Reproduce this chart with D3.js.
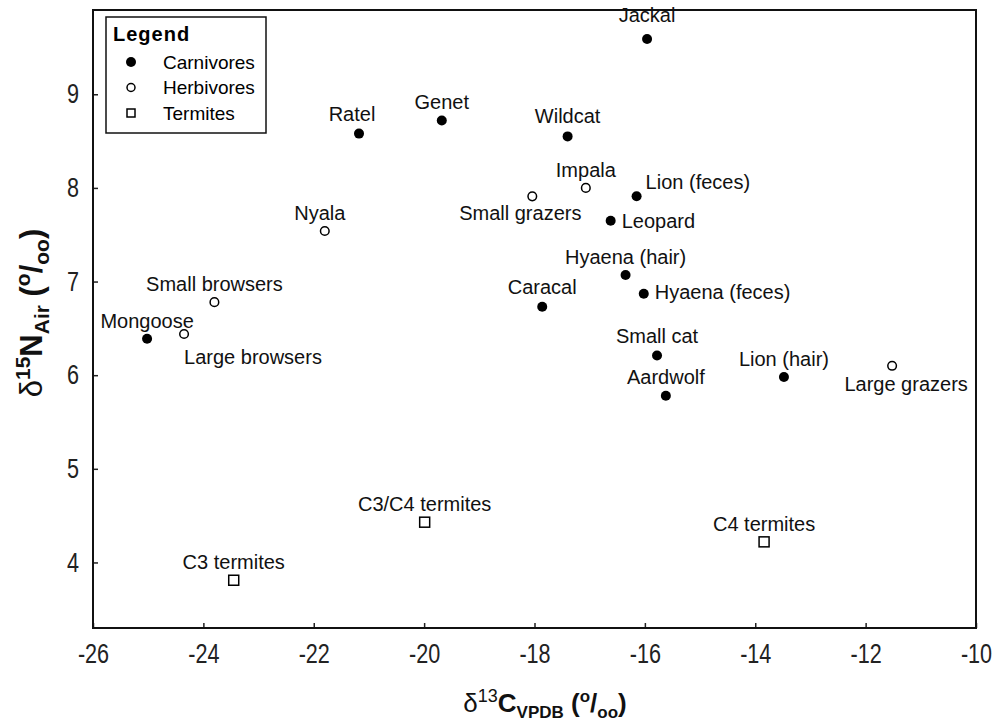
<!DOCTYPE html>
<html>
<head>
<meta charset="utf-8">
<script src="https://cdn.jsdelivr.net/npm/d3@7"></script>
<style>
  body { margin: 0; background: #fff; }
  svg { display: block; }
</style>
</head>
<body>
<script>
// Data
const names = ["Jackal", "Ratel", "Genet", "Wildcat", "Impala", "Small grazers", "Lion (feces)",
  "Leopard", "Nyala", "Hyaena (hair)", "Hyaena (feces)", "Caracal", "Small browsers", "Mongoose",
  "Large browsers", "Small cat", "Aardwolf", "Lion (hair)", "Large grazers",
  "C3 termites", "C3/C4 termites", "C4 termites"];
const d13C = [-15.96, -21.18, -19.68, -17.4, -17.07, -18.04, -16.15,
  -16.62, -21.8, -16.35, -16.02, -17.86, -23.8, -25.02,
  -24.35, -15.78, -15.62, -13.48, -11.52,
  -23.45, -19.99, -13.84];
const d15N = [9.59, 8.58, 8.72, 8.55, 8.0, 7.91, 7.91,
  7.65, 7.54, 7.07, 6.87, 6.73, 6.78, 6.39,
  6.44, 6.21, 5.78, 5.98, 6.1,
  3.81, 4.43, 4.22];
const groups = ["Carnivores", "Carnivores", "Carnivores", "Carnivores", "Herbivores", "Herbivores", "Carnivores",
  "Carnivores", "Herbivores", "Carnivores", "Carnivores", "Carnivores", "Herbivores", "Carnivores",
  "Herbivores", "Carnivores", "Carnivores", "Carnivores", "Herbivores",
  "Termites", "Termites", "Termites"];
const legendItems = ["Carnivores", "Herbivores", "Termites"];
const xTicks = [-26, -24, -22, -20, -18, -16, -14, -12, -10];
const yTicks = [4, 5, 6, 7, 8, 9];

// label placement: [dx, dy, anchor] relative to the marker
const labelPos = {
  "Jackal": [0, -24, "middle"], "Ratel": [-7, -20, "middle"], "Genet": [0, -18, "middle"],
  "Wildcat": [0, -20, "middle"], "Impala": [0, -18, "middle"], "Small grazers": [-12, 17, "middle"],
  "Lion (feces)": [9, -14, "start"], "Leopard": [11, 0, "start"], "Nyala": [-5, -18, "middle"],
  "Hyaena (hair)": [0, -18, "middle"], "Hyaena (feces)": [11, -2, "start"], "Caracal": [0, -20, "middle"],
  "Small browsers": [0, -18, "middle"], "Mongoose": [0, -18, "middle"], "Large browsers": [0, 23, "start"],
  "Small cat": [0, -20, "middle"], "Aardwolf": [0, -19, "middle"], "Lion (hair)": [0, -18, "middle"],
  "Large grazers": [14, 18, "middle"], "C3 termites": [0, -18, "middle"],
  "C3/C4 termites": [0, -18, "middle"], "C4 termites": [0, -18, "middle"]
};

const data = names.map((n, i) => ({ name: n, x: d13C[i], y: d15N[i], group: groups[i] }));

const W = 1003, H = 722;
const plot = { left: 93, top: 10, right: 976, bottom: 628 };

const svg = d3.select("body").append("svg")
  .attr("width", W)
  .attr("height", H);

const x = d3.scaleLinear().domain([-26, -10]).range([plot.left, plot.right]);
const y = d3.scaleLinear().domain([3.3, 9.9]).range([plot.bottom, plot.top]);

const labelFont = "'Liberation Sans', Arial, sans-serif";
const narrow = 0.8; // tick labels are a condensed face

// axes (ticks pointing inside)
const xAxis = svg.append("g")
  .attr("transform", "translate(0," + plot.bottom + ")")
  .call(d3.axisBottom(x).tickValues(xTicks).tickSize(-5).tickPadding(16).tickFormat(d3.format("d")));
const yAxis = svg.append("g")
  .attr("transform", "translate(" + plot.left + ",0)")
  .call(d3.axisLeft(y).tickValues(yTicks).tickSize(-5).tickPadding(14).tickFormat(d3.format("d")));

[xAxis, yAxis].forEach(g => {
  g.select(".domain").remove();
  g.selectAll(".tick line").attr("stroke", "#222").attr("stroke-width", 1.5);
  g.selectAll("text")
    .style("font-family", labelFont)
    .style("font-size", "27px")
    .attr("fill", "#222")
    .attr("transform", "scale(" + narrow + ",1)");
});
xAxis.selectAll("text").text(d => d < 0 ? "-" + Math.abs(d) : d);
yAxis.selectAll("text").attr("x", -14 / narrow);

// frame
svg.append("rect")
  .attr("x", plot.left)
  .attr("y", plot.top)
  .attr("width", plot.right - plot.left)
  .attr("height", plot.bottom - plot.top)
  .attr("fill", "none")
  .attr("stroke", "#111")
  .attr("stroke-width", 2);

// markers
function drawMarker(g, group, size) {
  if (group === "Carnivores") {
    g.append("circle").attr("r", size.r).attr("fill", "#000");
  } else if (group === "Herbivores") {
    g.append("circle").attr("r", size.o).attr("fill", "#fff")
      .attr("stroke", "#000").attr("stroke-width", 1.5);
  } else {
    g.append("rect").attr("x", -size.s / 2).attr("y", -size.s / 2)
      .attr("width", size.s).attr("height", size.s)
      .attr("fill", "#fff").attr("stroke", "#000").attr("stroke-width", 1.5);
  }
}

const pts = svg.append("g").selectAll("g")
  .data(data)
  .enter().append("g")
  .attr("transform", d => "translate(" + x(d.x) + "," + y(d.y) + ")");

pts.each(function(d) {
  drawMarker(d3.select(this), d.group, { r: 5, o: 4.3, s: 10 });
});

pts.append("text")
  .attr("x", d => labelPos[d.name][0])
  .attr("y", d => labelPos[d.name][1])
  .attr("dy", "0.35em")
  .attr("text-anchor", d => labelPos[d.name][2])
  .style("font-family", labelFont)
  .style("font-size", "20px")
  .attr("fill", "#111")
  .text(d => d.name);

// legend
const legend = svg.append("g").attr("transform", "translate(106,17)");
legend.append("rect")
  .attr("width", 160).attr("height", 116)
  .attr("fill", "#fff").attr("stroke", "#111").attr("stroke-width", 1.5);
legend.append("text")
  .attr("x", 7).attr("y", 24)
  .style("font-family", labelFont)
  .style("font-size", "20px")
  .style("font-weight", "bold")
  .style("letter-spacing", "1px")
  .text("Legend");
legendItems.forEach((item, i) => {
  const row = legend.append("g").attr("transform", "translate(25," + (45 + i * 25.5) + ")");
  drawMarker(row, item, { r: 5, o: 4, s: 8 });
  row.append("text")
    .attr("x", 32).attr("dy", "0.35em")
    .style("font-family", labelFont)
    .style("font-size", "19px")
    .text(item);
});

// axis titles
const xTitle = svg.append("text")
  .attr("x", 545).attr("y", 712)
  .attr("text-anchor", "middle")
  .style("font-family", labelFont)
  .style("font-size", "26px")
  .style("font-weight", "bold")
  .attr("fill", "#111");
xTitle.append("tspan").style("font-weight", "normal").text("δ");
xTitle.append("tspan").attr("dy", -10).style("font-size", "18px").style("font-weight", "normal").text("13");
xTitle.append("tspan").attr("dy", 10).text("C");
xTitle.append("tspan").attr("dy", 6).style("font-size", "17px").text("VPDB");
xTitle.append("tspan").attr("dy", -6).text(" (");
xTitle.append("tspan").attr("dy", -10).style("font-size", "17px").text("o");
xTitle.append("tspan").attr("dy", 10).text("/");
xTitle.append("tspan").attr("dy", 6).style("font-size", "17px").text("oo");
xTitle.append("tspan").attr("dy", -6).text(")");

const yTitle = svg.append("text")
  .attr("transform", "translate(42,313) rotate(-90)")
  .attr("text-anchor", "middle")
  .style("font-family", labelFont)
  .style("font-size", "31px")
  .style("font-weight", "bold")
  .attr("fill", "#111");
yTitle.append("tspan").style("font-weight", "normal").text("δ");
yTitle.append("tspan").attr("dy", -12).style("font-size", "21px").text("15");
yTitle.append("tspan").attr("dy", 12).text("N");
yTitle.append("tspan").attr("dy", 7).style("font-size", "21px").text("Air");
yTitle.append("tspan").attr("dy", -7).text(" (");
yTitle.append("tspan").attr("dy", -12).style("font-size", "21px").text("o");
yTitle.append("tspan").attr("dy", 12).text("/");
yTitle.append("tspan").attr("dy", 7).style("font-size", "21px").text("oo");
yTitle.append("tspan").attr("dy", -7).text(")");
</script>
</body>
</html>
